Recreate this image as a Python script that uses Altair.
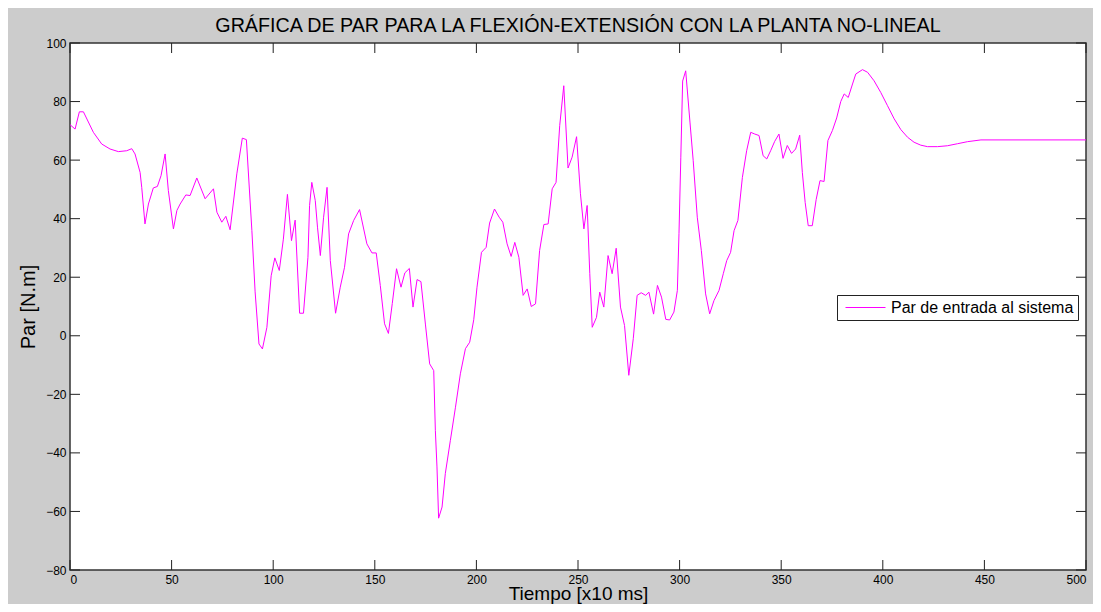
import altair as alt
import pandas as pd

# ---- data ----
tiempo = [0, 2.5, 4.6, 6.6, 11.5, 15.6, 19.7, 23.8, 27.9, 30.4, 32, 34.5, 35.3, 36.9, 38.6,
          41, 43, 44.8, 46.8, 48.4, 50.9, 52.6, 54.2, 57, 59.1, 62.4, 66.5, 70.6, 72.3, 74.7,
          76.7, 78.8, 82.1, 84.8, 86.8, 89.5, 91.1, 93, 94.7, 96.9, 99, 100.8, 103, 105, 107,
          109, 110.8, 113, 114.9, 117.1, 117.9, 119, 120.7, 121.8, 123.2, 124.8, 126.5, 128.1,
          130.7, 133, 135.1, 137.1, 139.6, 142.5, 146.1, 148.6, 150.7, 152.7, 154.8, 156.7,
          158.6, 160.7, 162.9, 164.8, 167, 168.8, 170.8, 172.7, 174.9, 177, 179, 179.8, 180.6,
          181.4, 183.1, 184.7, 187.2, 189.7, 192.1, 194.6, 196.7, 198.7, 200.3, 202.5, 204.8,
          206.5, 208.9, 211.2, 213, 215.1, 217.1, 218.9, 220.9, 223, 225, 227, 229.1, 231.1,
          233.2, 235.3, 237.3, 239.2, 241, 243, 245.1, 247.1, 249.3, 251.2, 252.9, 254.5, 255.8,
          257, 259.1, 260.7, 262.7, 264.8, 266.8, 268.8, 270.9, 272.9, 275, 277.2, 279.1, 281.1,
          283.3, 284.9, 287.2, 289.1, 291.1, 293.2, 295.1, 297.2, 298.9, 299.7, 300.6, 301.5,
          303, 305.1, 306.7, 308.7, 310.7, 312.8, 314.8, 316.9, 319.4, 321.5, 323.2, 325.1,
          326.8, 328.7, 330.9, 333, 335, 337, 339.1, 341.1, 342.9, 344.8, 346.8, 348.9, 350.9,
          353, 355.1, 357.1, 359.1, 360.4, 361.8, 363.3, 365.3, 367.2, 369.1, 371.1, 373, 375.2,
          377.3, 379.3, 381, 383, 385.1, 386.7, 390, 392.5, 395.7, 399, 402.3, 405.6, 408.9,
          412.2, 415.4, 418.7, 422, 426.9, 431.8, 436.8, 441.7, 448.3, 500]
par = [72.1, 70.6, 76.5, 76.5, 69.5, 65.5, 63.8, 62.9, 63.2, 63.9, 62.1, 55.8, 50.7, 38.2, 45,
       50.5, 51, 54.7, 62.1, 49.6, 36.5, 42.8, 45, 48.1, 47.9, 53.9, 46.8, 50.2, 42.2, 38.8,
       40.8, 36.2, 55.3, 67.5, 67, 36, 15, -2.8, -4.5, 2.9, 20.5, 26.6, 22.3, 33, 48.3,
       32.5, 39.5, 7.7, 7.7, 26.8, 44.5, 52.4, 46.2, 37.1, 27.4, 40.5, 50.7, 25.7,
       7.7, 16.6, 23.4, 34.8, 39.4, 43.1, 31.4, 28.3, 28.3, 17.2, 4.1, 0.8,
       11, 22.9, 16.6, 21.5, 23, 9.8, 19.2, 18.5, 4, -9.6, -11.9, -32.3, -44.8,
       -62.3, -58.5, -47.1, -35.7, -24.4, -13, -4.4, -2.2, 5.5, 16.6, 28.5, 30.2,
       38.5, 43.3, 40.5, 38.8, 31.4, 27.1, 31.9, 26.8, 13.8, 16, 10, 10.9, 29.1,
       38, 38.2, 50.2, 52.4, 71.8, 85.4, 57.3, 61, 68, 48.5, 36.5, 44.5, 21.2,
       2.9, 6.3, 14.9, 9.8, 27.4, 21.2, 29.9, 9.8, 3.5, -13.5, -1, 13.8, 14.7,
       13.8, 14.9, 7.4, 17.2, 13.2, 5.6, 5.4, 8.1, 15.5, 35, 61, 87,
       90.5, 73, 59.8, 40.5, 29.1, 14.3, 7.5, 12, 15.5, 21.2, 25.7, 28.5,
       35.9, 39.4, 54.1, 63.2, 69.5, 68.9, 68.4, 61.5, 60.4, 63.2, 66.4, 68.9, 60.6,
       65, 62.3, 63.8, 68.5, 55.8, 45.5, 37.6, 37.6, 46.5, 53, 52.7, 66.7, 70.1,
       74.4, 80, 82.6, 81.4, 86, 89.4, 90.9, 90, 87.1, 83.1, 78.6, 74.1, 70.4,
       67.8, 66.1, 65.1, 64.6, 64.6, 64.9, 65.6, 66.3, 66.9, 66.9]
serie = "Par de entrada al sistema"
x_ticks = [0, 50, 100, 150, 200, 250, 300, 350, 400, 450, 500]
y_ticks = [-80, -60, -40, -20, 0, 20, 40, 60, 80, 100]

W, H = 1016, 527
TICK = 10
FONT = "Liberation Sans"

df = pd.DataFrame({"t": tiempo, "par": par, "serie": serie})
xt = pd.DataFrame({"t": x_ticks})
yt = pd.DataFrame({"par": y_ticks})

x_scale = alt.Scale(domain=[0, 500], nice=False, zero=False)
y_scale = alt.Scale(domain=[-80, 100], nice=False, zero=False)
x_axis = alt.Axis(values=x_ticks, title="Tiempo [x10 ms]", labelPadding=4,
                  titleFontSize=19, titleBaseline="alphabetic", titleY=29,
                  titleX=W / 2)
y_axis = alt.Axis(values=y_ticks, title="Par [N.m]", labelPadding=4,
                  titleFontSize=20, titleBaseline="alphabetic", titleX=-36,
                  titleY=H / 2)

line = alt.Chart(df).mark_line(strokeWidth=1).encode(
    x=alt.X("t:Q", scale=x_scale, axis=x_axis),
    y=alt.Y("par:Q", scale=y_scale, axis=y_axis),
    color=alt.Color("serie:N", scale=alt.Scale(range=["#ff00ff"]),
                    legend=alt.Legend(title=None, orient="none", legendX=767, legendY=252,
                                      symbolType="M-2.5,0H2.5", symbolSize=256,
                                      symbolStrokeWidth=1, symbolOffset=16,
                                      labelOffset=17, labelFontSize=16, labelLimit=400,
                                      labelFont=FONT, labelColor="#000000",
                                      strokeColor="#222222", fillColor="#ffffff",
                                      padding=4)),
)

tick_style = dict(color="#222222", strokeWidth=1)
x_bottom = alt.Chart(xt).mark_rule(**tick_style).encode(
    x=alt.X("t:Q", scale=x_scale, axis=x_axis), y=alt.value(H), y2=alt.value(H - TICK))
x_top = alt.Chart(xt).mark_rule(**tick_style).encode(
    x=alt.X("t:Q", scale=x_scale, axis=x_axis), y=alt.value(0), y2=alt.value(TICK))
y_left = alt.Chart(yt).mark_rule(**tick_style).encode(
    y=alt.Y("par:Q", scale=y_scale, axis=y_axis), x=alt.value(0), x2=alt.value(TICK))
y_right = alt.Chart(yt).mark_rule(**tick_style).encode(
    y=alt.Y("par:Q", scale=y_scale, axis=y_axis), x=alt.value(W - TICK), x2=alt.value(W))

chart = alt.layer(line, x_bottom, x_top, y_left, y_right).properties(
    width=W, height=H,
    title=alt.Title("GRÁFICA DE PAR PARA LA FLEXIÓN-EXTENSIÓN CON LA PLANTA NO-LINEAL",
                    fontSize=19.7, font=FONT, fontWeight="normal", color="#000000",
                    anchor="middle", offset=1),
    padding={"left": 62, "top": 35, "right": 7, "bottom": 34},
    autosize=alt.AutoSizeParams(type="none"),
    background="#cccccc",
).configure_view(
    fill="#ffffff", stroke="#333333", strokeWidth=1.5
).configure_axis(
    domain=False, ticks=False, grid=False,
    labelFont=FONT, labelFontSize=12, labelColor="#000000",
    titleFont=FONT, titleColor="#000000", titleFontWeight="normal",
)

chart.save("out.html", embed_options={"renderer": "svg", "actions": False})
